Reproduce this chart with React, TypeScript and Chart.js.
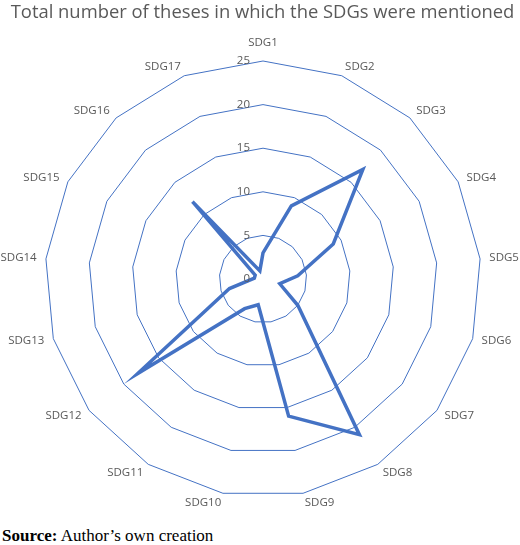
import React, { useEffect, useRef } from 'react';
import { Chart, registerables, Plugin } from 'chart.js';

Chart.register(...registerables);

const title = 'Total number of theses in which the SDGs were mentioned';
const categories = [
  'SDG1', 'SDG2', 'SDG3', 'SDG4', 'SDG5', 'SDG6', 'SDG7', 'SDG8', 'SDG9',
  'SDG10', 'SDG11', 'SDG12', 'SDG13', 'SDG14', 'SDG15', 'SDG16', 'SDG17',
];
const theses = [3, 9, 17, 9, 4, 2, 5, 21, 16, 3, 4, 18, 4, 1, 1, 12, 1];
const tickValues = [0, 5, 10, 15, 20, 25];

const BLUE = '#4472C4';
const GREY = '#595959';
const FONT = '"Open Sans", Lato, sans-serif';

// title, value labels to the left of the vertical axis, and category
// labels hanging off the outer ring the way Excel places them
const labelsPlugin: Plugin<'radar'> = {
  id: 'excelLabels',
  afterDraw(chart) {
    const s: any = chart.scales.r;
    const ctx = chart.ctx;
    ctx.save();
    ctx.fillStyle = GREY;

    ctx.font = `18.4px ${FONT}`;
    ctx.textAlign = 'center';
    ctx.textBaseline = 'alphabetic';
    ctx.fillText(title, 262.5, 17.5);

    ctx.font = `11.5px ${FONT}`;
    ctx.textAlign = 'right';
    ctx.textBaseline = 'middle';
    tickValues.forEach((v) => {
      const d = s.getDistanceFromCenterForValue(v);
      ctx.fillText(String(v), s.xCenter - 13, s.yCenter - d);
    });

    const gap = 9.3;
    categories.forEach((label, i) => {
      const p = s.getPointPosition(i, s.drawingArea);
      const ux = Math.cos(p.angle);
      const uy = Math.sin(p.angle);
      if (Math.abs(ux) < 0.05) {
        ctx.textAlign = 'center';
        ctx.fillText(label, p.x, p.y + uy * (gap + 9));
      } else {
        ctx.textAlign = ux > 0 ? 'left' : 'right';
        ctx.fillText(label, p.x + ux * gap, p.y + uy * gap);
      }
    });
    ctx.restore();
  },
};

const App: React.FC = () => {
  const canvasRef = useRef<HTMLCanvasElement>(null);

  useEffect(() => {
    document.body.style.margin = '0';
    if (!canvasRef.current) return;
    const chart = new Chart(canvasRef.current, {
      type: 'radar',
      data: {
        labels: categories,
        datasets: [{
          label: 'Theses',
          data: theses,
          borderColor: BLUE,
          borderWidth: 3.5,
          fill: false,
          pointRadius: 0,
          pointHoverRadius: 0,
          tension: 0,
        }],
      },
      options: {
        animation: false,
        responsive: false,
        layout: { padding: { left: 45, right: 39, top: 61, bottom: 23 } },
        plugins: {
          legend: { display: false },
          tooltip: { enabled: false },
          title: { display: false },
        },
        scales: {
          r: {
            min: 0,
            max: 25,
            ticks: { stepSize: 5, display: false },
            grid: { color: BLUE, lineWidth: 1 },
            angleLines: { display: false },
            pointLabels: { display: false },
          },
        },
      },
      plugins: [labelsPlugin],
    });
    return () => chart.destroy();
  }, []);

  return (
    <div style={{ width: 520 }}>
      <canvas ref={canvasRef} width={520} height={520} style={{ display: 'block' }} />
      <div style={{
        paddingLeft: 2,
        marginTop: 4,
        fontFamily: '"Liberation Serif", "Times New Roman", serif',
        fontSize: 17,
        lineHeight: '24px',
        color: '#000',
      }}>
        <b>Source:</b> Author’s own creation
      </div>
    </div>
  );
};

export default App;
